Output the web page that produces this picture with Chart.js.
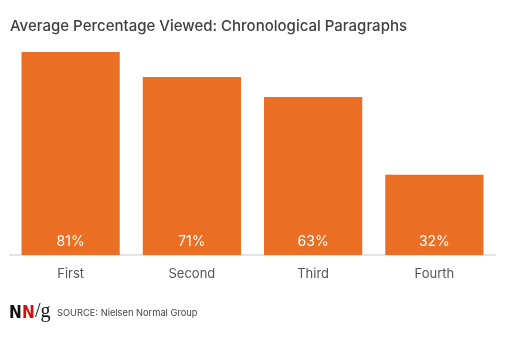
<!DOCTYPE html>
<html>
<head>
<meta charset="utf-8">
<script src="https://cdn.jsdelivr.net/npm/chart.js@4.4.1/dist/chart.umd.min.js"></script>
<style>
html,body{margin:0;padding:0;background:#fff;}
#wrap{position:relative;width:505px;height:341px;}
</style>
</head>
<body>
<div id="wrap"><canvas id="c" width="505" height="341"></canvas></div>
<script>
const categories = ["First", "Second", "Third", "Fourth"];
const values = [81, 71, 63, 32];
const valueLabels = ["81%", "71%", "63%", "32%"];
const titleText = "Average Percentage Viewed: Chronological Paragraphs";
const sourceText = "SOURCE: Nielsen Normal Group";

const FONT = "Inter, 'Open Sans', sans-serif";

const decor = {
  id: 'decor',
  afterDatasetsDraw(chart) {
    const ctx = chart.ctx;
    const meta = chart.getDatasetMeta(0);
    ctx.save();
    ctx.fillStyle = '#ffffff';
    ctx.font = "400 14px " + FONT;
    ctx.textAlign = 'center';
    ctx.textBaseline = 'middle';
    meta.data.forEach((bar, i) => {
      ctx.fillText(valueLabels[i], bar.x, chart.chartArea.bottom - 13);
    });
    ctx.restore();
  },
  afterDraw(chart) {
    const ctx = chart.ctx;
    ctx.save();
    // title
    ctx.fillStyle = '#404040';
    ctx.font = "500 15px " + FONT;
    ctx.textAlign = 'left';
    ctx.textBaseline = 'alphabetic';
    ctx.fillText(titleText, 10, 31);
    // logo
    ctx.font = "bold 17px 'DejaVu Sans Condensed', 'DejaVu Sans', sans-serif";
    ctx.fillStyle = '#111111';
    ctx.fillText("N", 9, 318);
    ctx.fillStyle = '#cc1111';
    ctx.fillText("N", 22, 318);
    ctx.fillStyle = '#111111';
    ctx.font = "400 20px 'Liberation Serif', serif";
    ctx.fillText("/g", 35, 317);
    // source
    ctx.fillStyle = '#444444';
    ctx.font = "400 9.3px " + FONT;
    ctx.fillText(sourceText, 57, 316);
    ctx.restore();
  }
};

new Chart(document.getElementById('c'), {
  type: 'bar',
  data: {
    labels: categories,
    datasets: [{
      data: values,
      backgroundColor: '#EA6E24',
      borderWidth: 0,
      barPercentage: 0.9,
      categoryPercentage: 0.9
    }]
  },
  options: {
    responsive: false,
    animation: false,
    devicePixelRatio: 1,
    layout: { padding: { top: 52, left: 10, right: 10, bottom: 0 } },
    plugins: { legend: { display: false }, tooltip: { enabled: false }, title: { display: false } },
    scales: {
      y: { display: false, min: 0, max: 81 },
      x: {
        grid: { display: false, drawTicks: false },
        border: { display: true, color: '#e4e4e4', width: 2 },
        ticks: { color: '#555555', font: { family: FONT, size: 13 }, padding: 11 },
        afterFit(scale) { scale.height = 86; }
      }
    }
  },
  plugins: [decor]
});
</script>
</body>
</html>
